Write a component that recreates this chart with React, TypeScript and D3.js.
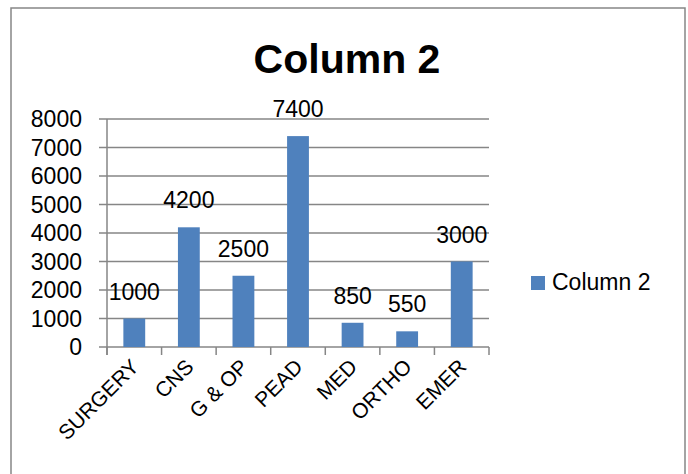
import { scaleBand, scaleLinear, range } from 'd3'

const categories = ['SURGERY', 'CNS', 'G & OP', 'PEAD', 'MED', 'ORTHO', 'EMER']
const values = [1000, 4200, 2500, 7400, 850, 550, 3000]
const yTicks = [0, 1000, 2000, 3000, 4000, 5000, 6000, 7000, 8000]
const seriesName = 'Column 2'
const title = 'Column 2'

const WIDTH = 688
const HEIGHT = 474
const LEFT = 107
const RIGHT = 489
const TOP = 119
const BOTTOM = 347
const BAR = '#4F81BD'
const GRID = '#868686'
const FONT = '"Liberation Sans", Arial, sans-serif'

export default function App() {
  const x = scaleBand<string>().domain(categories).range([LEFT, RIGHT]).paddingInner(0.6).paddingOuter(0.3)
  const step = (RIGHT - LEFT) / categories.length
  const y = scaleLinear().domain([0, 8000]).range([BOTTOM, TOP])

  return (
    <svg
      width={WIDTH}
      height={HEIGHT}
      viewBox={`0 0 ${WIDTH} ${HEIGHT}`}
      style={{ position: 'absolute', left: 0, top: 0, background: '#fff' }}
      fontFamily={FONT}
    >
      <rect x={11} y={8} width={674} height={480} fill="#fff" stroke={GRID} strokeWidth={1.5} />

      <text x={347} y={73} textAnchor="middle" fontSize={41} fontWeight="bold">
        {title}
      </text>

      {/* gridlines + y labels */}
      {yTicks.map((t) => (
        <g key={t}>
          <line x1={LEFT - 8} x2={RIGHT} y1={y(t)} y2={y(t)} stroke={GRID} strokeWidth={1.5} />
          <text x={82} y={y(t)} dy="0.36em" textAnchor="end" fontSize={23}>
            {t}
          </text>
        </g>
      ))}

      <line x1={LEFT} x2={LEFT} y1={TOP} y2={BOTTOM + 8} stroke={GRID} strokeWidth={1.5} />
      {range(categories.length + 1).map((i) => (
        <line
          key={i}
          x1={LEFT + i * step}
          x2={LEFT + i * step}
          y1={BOTTOM}
          y2={BOTTOM + 8}
          stroke={GRID}
          strokeWidth={1.5}
        />
      ))}

      {categories.map((c, i) => (
        <g key={c}>
          <rect x={x(c)} y={y(values[i])} width={x.bandwidth()} height={BOTTOM - y(values[i])} fill={BAR} />
          <text x={(x(c) ?? 0) + x.bandwidth() / 2} y={y(values[i]) - 19} textAnchor="middle" fontSize={23}>
            {values[i]}
          </text>
          <text
            transform={`translate(${(x(c) ?? 0) + x.bandwidth() / 2 + 6},${BOTTOM + 21}) rotate(-45)`}
            textAnchor="end"
            fontSize={21}
          >
            {c}
          </text>
        </g>
      ))}

      <rect x={531} y={276} width={14} height={14} fill={BAR} />
      <text x={552} y={290} fontSize={23}>
        {seriesName}
      </text>
    </svg>
  )
}
